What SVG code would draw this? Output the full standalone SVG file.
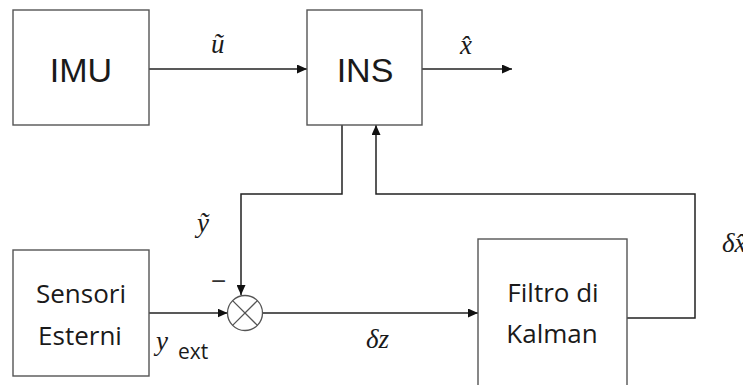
<svg xmlns="http://www.w3.org/2000/svg" width="743" height="385" viewBox="0 0 743 385">
<style>
.box{fill:#fff;stroke:#555;stroke-width:1.4}
.con{fill:none;stroke:#222;stroke-width:1.5}
.big{font-family:"Liberation Sans",Arial,sans-serif;font-size:34px;fill:#1a1a1a;text-anchor:middle}
.cal{font-family:"Open Sans","Noto Sans",sans-serif;font-size:26px;fill:#1a1a1a;text-anchor:middle}
.m{font-family:"Liberation Serif","Times New Roman",serif;font-style:italic;font-size:27px;fill:#1a1a1a}
</style>
<defs>
<marker id="ah" markerUnits="userSpaceOnUse" markerWidth="10" markerHeight="9" refX="10" refY="4.5" orient="auto">
<path d="M0,0 L10,4.5 L0,9 z" fill="#111"/>
</marker>
</defs>
<rect width="743" height="385" fill="#fff"/>
<g id="connectors">
<path class="con" d="M149,69 H307" marker-end="url(#ah)"/>
<path class="con" d="M422,69 H512" marker-end="url(#ah)"/>
<path class="con" d="M342,125 V194 H241 V295" marker-end="url(#ah)"/>
<path class="con" d="M627,318 H695 V194 H376 V125" marker-end="url(#ah)"/>
<path class="con" d="M149,313 H227.5" marker-end="url(#ah)"/>
<path class="con" d="M262.5,313 H478" marker-end="url(#ah)"/>
</g>
<g id="imu">
<rect class="box" x="13" y="10" width="136" height="115"/>
<text class="big" x="81" y="82">IMU</text>
</g>
<g id="ins">
<rect class="box" x="307" y="10" width="115" height="115"/>
<text class="big" x="365" y="82">INS</text>
</g>
<g id="sensori">
<rect class="box" x="13" y="250" width="136" height="126"/>
<text class="cal" x="81" y="303">Sensori</text>
<text class="cal" x="80" y="345">Esterni</text>
</g>
<g id="kalman">
<rect class="box" x="478" y="239" width="149" height="160"/>
<text class="cal" x="553" y="302">Filtro di</text>
<text class="cal" x="552" y="343">Kalman</text>
</g>
<g id="sum">
<circle cx="245" cy="313" r="17.5" fill="#fff" stroke="#555" stroke-width="1.3"/>
<path d="M232.6,300.6 L257.4,325.4 M257.4,300.6 L232.6,325.4" stroke="#555" stroke-width="1.3"/>
</g>
<g id="labels">
<text class="m" x="211" y="53">ũ</text>
<text class="m" x="460" y="54">x̂</text>
<text class="m" x="197" y="232">ỹ</text>
<text x="211" y="290" font-family="Liberation Sans,sans-serif" font-size="26" fill="#333">−</text>
<text class="m" x="156" y="350">y</text>
<text x="178" y="359" font-family="Open Sans,sans-serif" font-size="21" fill="#1a1a1a">ext</text>
<text class="m" x="366" y="348" font-size="23px">δz</text>
<text class="m" x="722" y="252" font-size="23px">δx̂</text>
</g>
</svg>
